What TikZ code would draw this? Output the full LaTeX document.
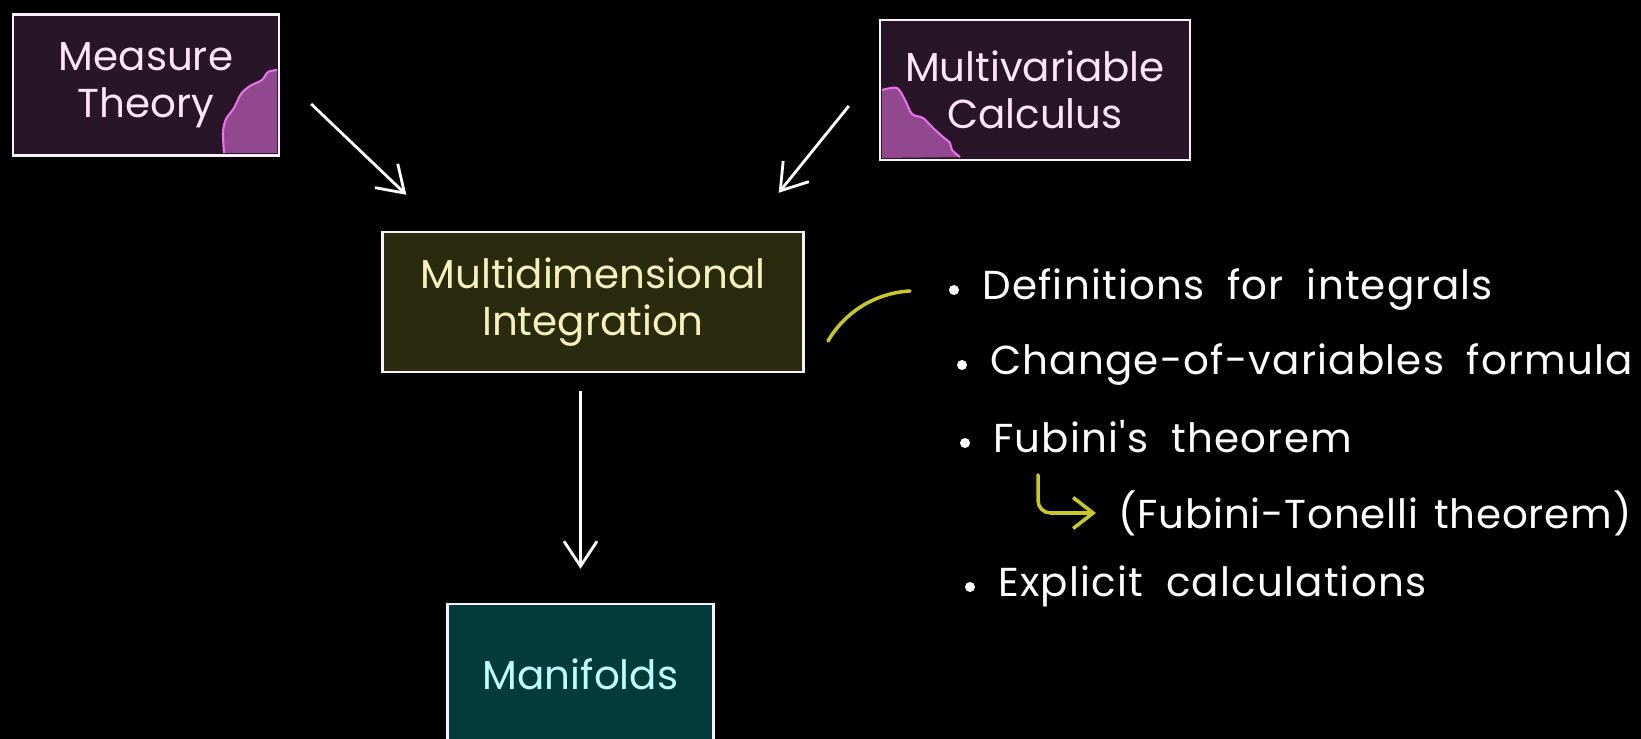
\documentclass[tikz,border=0pt]{standalone}
\usepackage{fontspec}
\setmainfont{Poppins}
\newfontfamily\listfont{Poppins}[WordSpace=1.9,LetterSpace=3]
\newfontfamily\notefont{Poppins}[WordSpace=1.4,LetterSpace=2]
\usetikzlibrary{arrows.meta}
\definecolor{plum}{RGB}{40,21,40}
\definecolor{pinktext}{RGB}{255,228,250}
\definecolor{blobfill}{RGB}{146,72,142}
\definecolor{blobline}{RGB}{232,112,232}
\definecolor{olive}{RGB}{42,42,14}
\definecolor{creamtext}{RGB}{245,240,190}
\definecolor{teal}{RGB}{3,58,58}
\definecolor{cyantext}{RGB}{190,255,255}
\definecolor{hilite}{RGB}{200,200,45}
\definecolor{edge}{RGB}{248,242,248}

\begin{document}
\begin{tikzpicture}[x=0.02cm,y=-0.02cm,font=\fontsize{23}{27}\selectfont,
  box/.style={draw=edge,line width=1.4pt,align=center,inner sep=0pt},
  purplebox/.style={box,fill=plum,text=pinktext},
  arr/.style={white,line width=1.6pt,-{Straight Barb[length=0.5cm,width=0.66cm]}},
  hl/.style={hilite,line width=2pt,line cap=round},
  item/.style={text=white,inner sep=0pt,anchor=base west,font=\listfont\fontsize{23}{27}\selectfont}]
\path[use as bounding box,fill=black] (0,0) rectangle (1641,739);

% the four boxes
\node[purplebox,minimum width=5.32cm,minimum height=2.82cm] (measure) at (146,85) {Measure\\Theory};
\node[purplebox,minimum width=6.2cm,minimum height=2.8cm] (multivar) at (1035,90) {Multivariable\\Calculus};
\node[box,fill=olive,text=creamtext,minimum width=8.42cm,minimum height=2.8cm] (multidim) at (593,302) {Multidimensional\\Integration};
\node[box,fill=teal,text=cyantext,minimum width=5.32cm,minimum height=2.8cm] (manifolds) at (580.5,674) {Manifolds};

% corner blobs
\fill[blobfill] plot[smooth] coordinates {(277,70) (268,72) (262,80) (250,86) (241,94) (234,108) (226,119) (223,132) (224,153)} -- (277,153) -- cycle;
\draw[blobline,line width=1.2pt] plot[smooth] coordinates {(277,70) (268,72) (262,80) (250,86) (241,94) (234,108) (226,119) (223,132) (224,153)};
\fill[blobfill] plot[smooth] coordinates {(882,90) (897,88) (905,100) (912,114) (923,118) (932,127) (943,137) (950,143) (952,150) (960,157)} -- (882,158) -- cycle;
\draw[blobline,line width=1.2pt] plot[smooth] coordinates {(882,90) (897,88) (905,100) (912,114) (923,118) (932,127) (943,137) (950,143) (952,150) (960,157)};

% arrows between boxes
\draw[arr] ([xshift=0.62cm,yshift=-0.38cm]measure.east) -- ([xshift=0.5cm,yshift=0.72cm]multidim.north west);
\draw[arr] ([xshift=-0.6cm,yshift=-0.32cm]multivar.west) -- ([xshift=-0.52cm,yshift=0.76cm]multidim.north east);
\draw[arr,shorten <=0.36cm,shorten >=0.68cm] (manifolds.north |- multidim.south) -- (manifolds.north);

% list of topics
\foreach \x/\y/\t [count=\i] in {982/300/Definitions for integrals,990/375/Change-of-variables formula,993/453/Fubini's theorem,998/597/Explicit calculations}{
  \fill[white] (\x-28,\y-10) circle (0.1cm);
  \node[item] (topic\i) at (\x,\y) {\t};
}
\node[item,anchor=west,font=\notefont\fontsize{23}{27}\selectfont] (tonelli) at (1118,513) {(Fubini-Tonelli theorem)};

\coordinate (c1) at (828,341);
\coordinate (c2) at (910,291);
\draw[hl] (c1) .. controls (845,312) and (875,293) .. (c2);
\coordinate (hook) at (1038,475);
\draw[hl,rounded corners=0.25cm,-{Straight Barb[length=0.4cm,width=0.62cm]}] (hook) |- ([xshift=-0.44cm]tonelli.west);
\end{tikzpicture}
\end{document}
